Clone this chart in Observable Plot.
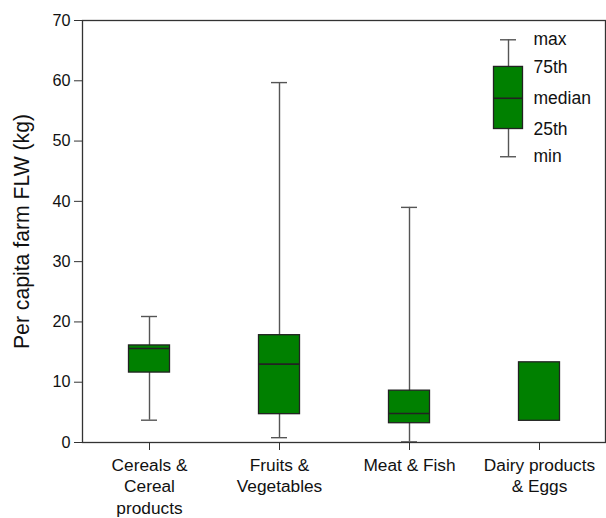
<!DOCTYPE html>
<html><head><meta charset="utf-8">
<script src="https://cdn.jsdelivr.net/npm/d3@7"></script>
<script src="https://cdn.jsdelivr.net/npm/@observablehq/plot@0.6"></script>
<style>body{margin:0;background:#fff}</style>
</head><body><div id="chart"></div>
<script>
const categories = ["Cereals &\nCereal\nproducts", "Fruits &\nVegetables", "Meat & Fish", "Dairy products\n& Eggs"];
const minVals = [3.7, 0.8, 0.1, null];
const q1Vals = [11.6, 4.7, 3.2, 3.6];
const medianVals = [15.6, 13.0, 4.8, null];
const q3Vals = [16.1, 17.8, 8.6, 13.3];
const maxVals = [20.9, 59.7, 39.0, null];
const yTicks = [0, 10, 20, 30, 40, 50, 60, 70];
const legendLabels = ["min", "25th", "median", "75th", "max"];
const legendValues = [47.4, 52.0, 57.1, 62.3, 66.8];

const data = categories.map((c, i) => ({cat: c, min: minVals[i], q1: q1Vals[i], med: medianVals[i], q3: q3Vals[i], max: maxVals[i]}));
const whisk = data.filter(d => d.min != null);
const meds = data.filter(d => d.med != null);
const legCat = categories[3];
const L = {cat: legCat, min: legendValues[0], q1: legendValues[1], med: legendValues[2], q3: legendValues[3], max: legendValues[4]};
const legendText = legendLabels.map((t, i) => ({cat: legCat, label: t, v: legendValues[i]}));
const legDx = -31;
const boxInset = 44.5, capInset = 57, legInset = 50.5;
const green = "#008000", edge = "#222", whiskColor = "#555";

const plot = Plot.plot({
  width: 606, height: 518,
  marginLeft: 82, marginTop: 20, marginRight: 1, marginBottom: 76,
  style: {fontFamily: "'Liberation Sans', Arial, sans-serif", color: "#222", background: "#fff"},
  x: {domain: categories, padding: 0, label: null},
  y: {domain: [0, 70], label: null},
  marks: [
    Plot.ruleX(whisk, {x: "cat", y1: "min", y2: "max", stroke: whiskColor, strokeWidth: 1.4}),
    Plot.tickY(whisk, {x: "cat", y: "min", stroke: whiskColor, strokeWidth: 1.4, inset: capInset}),
    Plot.tickY(whisk, {x: "cat", y: "max", stroke: whiskColor, strokeWidth: 1.4, inset: capInset}),
    Plot.barY(data, {x: "cat", y1: "q1", y2: "q3", fill: green, stroke: edge, strokeWidth: 1.3, insetLeft: boxInset, insetRight: boxInset}),
    Plot.tickY(meds, {x: "cat", y: "med", stroke: edge, strokeWidth: 1.6, inset: boxInset}),
    // legend
    Plot.ruleX([L], {x: "cat", y1: "min", y2: "max", dx: legDx, stroke: whiskColor, strokeWidth: 1.4}),
    Plot.tickY([L], {x: "cat", y: "min", dx: legDx, stroke: whiskColor, strokeWidth: 1.4, inset: capInset}),
    Plot.tickY([L], {x: "cat", y: "max", dx: legDx, stroke: whiskColor, strokeWidth: 1.4, inset: capInset}),
    Plot.barY([L], {x: "cat", y1: "q1", y2: "q3", dx: legDx, fill: green, stroke: edge, strokeWidth: 1.3, insetLeft: legInset, insetRight: legInset}),
    Plot.tickY([L], {x: "cat", y: "med", dx: legDx, stroke: edge, strokeWidth: 1.6, inset: legInset}),
    Plot.text(legendText, {x: "cat", y: "v", text: "label", dx: -6, textAnchor: "start", fontSize: 17.5, fill: "#111"}),
    Plot.frame({stroke: "#333", strokeWidth: 1.3}),
    Plot.axisY({ticks: yTicks, tickSize: 8, tickPadding: 4, fontSize: 16.2, stroke: "#333", fill: "#111", label: null}),
    Plot.axisX({tickSize: 8, tickPadding: 5, fontSize: 17.3, lineHeight: 1.25, stroke: "#333", fill: "#111", label: null}),
    Plot.text(["Per capita farm FLW (kg)"], {frameAnchor: "left", textAnchor: "middle", dx: -60, rotate: -90, fontSize: 21.2, fill: "#111"})
  ]
});
document.getElementById("chart").appendChild(plot);
</script></body></html>
